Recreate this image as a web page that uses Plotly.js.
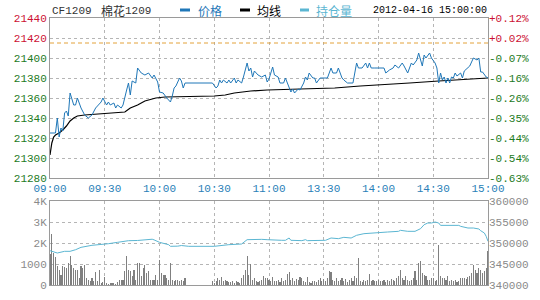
<!DOCTYPE html>
<html><head><meta charset="utf-8">
<script src="https://cdn.plot.ly/plotly-3.0.1.min.js"></script>
<style>html,body{margin:0;padding:0;background:#fff}#c{width:540px;height:300px}</style>
</head><body><div id="c"></div>
<script>
// ---- data ----
const prevSettle = 21415;
const timeTickVals = [0,30,60,90,120,150,180,210,240];
const timeTickText = ['09:00','09:30','10:00','10:30','11:00','13:30','14:00','14:30','15:00'];
const priceTickVals = [21280,21300,21320,21340,21360,21380,21400,21420,21440];
const pctTickText = ['-0.63%','-0.54%','-0.44%','-0.35%','-0.26%','-0.16%','-0.07%','+0.02%','+0.12%'];
const volTickVals = [0,1000,2000,3000,4000];
const volTickText = ['0','1000','2K','3K','4K'];
const oiTickVals = [340000,345000,350000,355000,360000];
const oiTickText = ['340000','345000','350000','355000','360000'];

const priceMin = [0,3,4,5,6,7,8,9,10,11,13,14,15,17,19,21,23,25,28,29,31,32,33,35,36,37,39,40,42,43,44,45,47,48,50,52,54,56,57,59,60,62,64,66,67,68,69,71,72,73,74,89,91,92,93,94,95,97,98,99,101,102,103,105,106,108,109,110,111,112,114,116,118,119,120,122,123,125,126,128,129,130,132,133,134,136,137,139,140,141,142,144,145,146,148,152,154,155,157,158,160,161,163,166,168,169,171,173,174,175,176,178,181,183,184,186,188,189,191,193,194,196,198,199,201,202,204,205,206,208,209,211,212,213,214,215,216,217,218,219,220,221,222,223,225,226,227,229,230,231,232,234,235,236,237,239,240];
const priceVal = [21325,21325,21340,21321,21330,21327,21345,21347,21342,21365,21353,21353,21360,21350,21343,21340,21343,21350,21356,21360,21353,21356,21353,21355,21350,21353,21350,21353,21368,21375,21363,21377,21375,21390,21385,21383,21385,21380,21383,21376,21366,21365,21360,21356,21362,21370,21372,21380,21377,21370,21375,21375,21370,21372,21378,21375,21378,21375,21378,21375,21380,21375,21378,21375,21381,21395,21387,21390,21381,21387,21383,21381,21383,21376,21379,21391,21383,21381,21375,21375,21380,21375,21366,21369,21365,21369,21368,21375,21381,21378,21385,21380,21380,21375,21380,21380,21390,21385,21385,21390,21380,21378,21375,21375,21395,21390,21390,21395,21390,21395,21390,21390,21390,21390,21385,21388,21390,21393,21390,21395,21392,21385,21395,21393,21398,21405,21392,21403,21400,21405,21400,21395,21390,21375,21385,21378,21381,21375,21380,21375,21381,21380,21385,21382,21385,21380,21387,21390,21392,21396,21400,21398,21400,21386,21386,21381,21380];

const avgMin = [0,1,2,3,5,7,9,11,13,15,19,27,37,41,44,48,52,58,63,90,96,101,110,119,137,156,170,181,197,213,225,240];
const avgVal = [21303,21315,21321,21323,21325,21328,21332,21337,21340,21342,21343,21344,21345,21346,21350,21353,21357,21360,21361,21362,21363,21365,21367,21368,21369,21370,21372,21373,21375,21377,21378,21380];

const oiMin = [0,4,8,11,14,17,23,28,32,37,43,48,54,56,57,60,65,66,70,72,76,90,98,105,108,112,116,119,123,127,129,131,132,138,140,141,151,154,158,161,165,168,172,178,185,191,192,196,200,203,205,207,209,211,213,214,218,224,225,229,232,235,236,238,239,240];
const oiVal = [348170,347620,348020,348020,348400,348970,349450,349600,349830,350160,350550,350600,350950,350900,350750,350160,349600,349210,349250,349400,349210,349210,349600,349760,350790,350870,350870,350790,350640,350640,350640,351190,350640,350560,350790,350560,350640,351190,351030,351350,351190,351830,352220,352460,352620,352780,353020,352780,352780,353400,354360,354760,354760,355000,354760,354200,354200,354200,353970,353570,353570,353330,352930,352380,351590,350400];

const volume = [
1500,2430,1520,1320,890,730,490,890,860,810,
1050,1360,970,810,730,730,330,890,810,970,
330,250,170,330,200,620,170,730,100,140,
360,100,60,100,80,100,50,140,250,250,
250,650,1360,730,650,410,730,250,1050,1050,
410,810,970,570,680,250,250,250,490,250,
1200,570,490,490,330,250,1050,250,170,250,
220,170,250,170,330,0,0,0,0,0,
0,0,0,0,0,0,0,0,0,170,
100,210,330,250,365,170,250,170,140,140,
170,100,170,140,100,330,490,730,1360,490,
1000,250,330,170,140,170,250,410,330,330,
250,170,365,210,170,250,140,330,170,250,
520,620,250,330,210,300,250,365,330,170,
140,365,140,100,170,210,140,250,330,170,
300,170,330,680,620,250,210,330,170,250,
330,170,300,140,250,330,210,410,330,1290,
170,140,250,170,250,520,170,250,170,210,
250,170,170,250,140,250,170,300,250,210,
330,410,730,330,250,410,250,170,250,330,
680,250,1050,1130,570,490,410,250,250,330,
330,170,250,1920,410,330,330,250,410,210,
250,170,250,140,170,330,330,330,300,365,
410,570,970,730,570,810,730,570,650,810,
1600];
const volMin = volume.map((_, i) => i);

// ---- styling ----
const MONO = '"Liberation Mono", "DejaVu Sans Mono", monospace';
const CJK = '"Noto Sans CJK SC", sans-serif';
const RED = '#cc1133', GREEN = '#1d7a1d', BLUE = '#1f77b8', LBLUE = '#5bb6d2', GRAY = '#8a8a8a';
const GRID = '#b5b5b5', BORDER = '#9a9a9a';

const priceTickText = priceTickVals.map(v =>
  `<span style="color:${v > prevSettle ? RED : GREEN}">${v}</span>`);
const pctColored = pctTickText.map((t, i) =>
  `<span style="color:${priceTickVals[i] > prevSettle ? RED : GREEN}">${t}</span>`);

const W = 540, H = 300, L = 50, R = 52, T = 18, B = 15;
const pw = W - L - R, ph = H - T - B;
const px = x => (x - L) / pw;
const py = y => (H - B - y) / ph;

const traces = [
  {type: 'bar', x: volMin, y: volume, xaxis: 'x2', yaxis: 'y2',
   marker: {color: '#808080', line: {width: 0}}, width: 0.62},
  {type: 'scatter', mode: 'lines', x: oiMin, y: oiVal, xaxis: 'x2', yaxis: 'y4',
   line: {color: LBLUE, width: 1}},
  {type: 'scatter', mode: 'lines', x: [0, 240], y: [prevSettle, prevSettle], xaxis: 'x', yaxis: 'y3',
   line: {color: '#e3a23a', width: 1, dash: '4px,3px'}},
  {type: 'scatter', mode: 'lines', x: avgMin, y: avgVal, xaxis: 'x', yaxis: 'y',
   line: {color: '#000', width: 1.2}},
  {type: 'scatter', mode: 'lines', x: priceMin, y: priceVal, xaxis: 'x', yaxis: 'y',
   line: {color: BLUE, width: 1}}
];

const axisBase = {showgrid: true, gridcolor: GRID, griddash: 'dot', gridwidth: 1,
  zeroline: false, showline: true, linecolor: BORDER, linewidth: 1, mirror: true,
  ticks: '', fixedrange: true};

const mainBot = py(178), lowTop = py(201);

const layout = {
  width: W, height: H, margin: {l: L, r: R, t: T, b: B},
  paper_bgcolor: '#fff', plot_bgcolor: '#fff', showlegend: false, hovermode: false,
  bargap: 0,
  xaxis: Object.assign({}, axisBase, {domain: [0, 1], anchor: 'y', range: [0, 240],
    tickmode: 'array', tickvals: timeTickVals, ticktext: timeTickText,
    tickfont: {family: MONO, size: 11, color: '#2a7fb8'}}),
  yaxis: Object.assign({}, axisBase, {domain: [mainBot, 1], anchor: 'x', range: [21280, 21440],
    tickmode: 'array', tickvals: priceTickVals, ticktext: priceTickText,
    tickfont: {family: MONO, size: 11}}),
  yaxis3: {overlaying: 'y', side: 'right', anchor: 'x', range: [21280, 21440],
    tickmode: 'array', tickvals: priceTickVals, ticktext: pctColored, showgrid: false,
    zeroline: false, showline: false, ticks: '', tickfont: {family: MONO, size: 11}, fixedrange: true},
  xaxis2: Object.assign({}, axisBase, {domain: [0, 1], anchor: 'y2', range: [0, 240],
    tickmode: 'array', tickvals: timeTickVals, showticklabels: false}),
  yaxis2: Object.assign({}, axisBase, {domain: [0, lowTop], anchor: 'x2', range: [0, 4000],
    tickmode: 'array', tickvals: volTickVals, ticktext: volTickText,
    tickfont: {family: MONO, size: 11, color: GRAY}}),
  yaxis4: {overlaying: 'y2', side: 'right', anchor: 'x2', range: [340000, 360000],
    tickmode: 'array', tickvals: oiTickVals, ticktext: oiTickText, showgrid: false,
    zeroline: false, showline: false, ticks: '', tickfont: {family: MONO, size: 11, color: GRAY}, fixedrange: true},
  shapes: [
    {type: 'rect', xref: 'paper', yref: 'paper', x0: px(180), x1: px(190), y0: py(11.5), y1: py(8.5), fillcolor: BLUE, line: {width: 0}},
    {type: 'rect', xref: 'paper', yref: 'paper', x0: px(240), x1: px(250), y0: py(11.5), y1: py(8.5), fillcolor: '#000', line: {width: 0}},
    {type: 'rect', xref: 'paper', yref: 'paper', x0: px(300), x1: px(309), y0: py(11.5), y1: py(8.5), fillcolor: LBLUE, line: {width: 0}}
  ],
  annotations: [
    {text: 'CF1209', x: px(50), y: py(11), xref: 'paper', yref: 'paper', xanchor: 'left', yanchor: 'middle', showarrow: false, font: {family: MONO, size: 11, color: '#333'}},
    {text: '棉花', x: px(99), y: py(11), xref: 'paper', yref: 'paper', xanchor: 'left', yanchor: 'middle', showarrow: false, font: {family: CJK, size: 12, color: '#333'}},
    {text: '1209', x: px(123), y: py(11), xref: 'paper', yref: 'paper', xanchor: 'left', yanchor: 'middle', showarrow: false, font: {family: MONO, size: 11, color: '#333'}},
    {text: '价格', x: px(196), y: py(11), xref: 'paper', yref: 'paper', xanchor: 'left', yanchor: 'middle', showarrow: false, font: {family: CJK, size: 12, color: BLUE}},
    {text: '均线', x: px(255), y: py(11), xref: 'paper', yref: 'paper', xanchor: 'left', yanchor: 'middle', showarrow: false, font: {family: CJK, size: 12, color: '#000'}},
    {text: '持仓量', x: px(314), y: py(11), xref: 'paper', yref: 'paper', xanchor: 'left', yanchor: 'middle', showarrow: false, font: {family: CJK, size: 12, color: LBLUE}},
    {text: '2012-04-16 15:00:00', x: px(371), y: py(11), xref: 'paper', yref: 'paper', xanchor: 'left', yanchor: 'middle', showarrow: false, font: {family: MONO, size: 10, color: '#000'}}
  ]
};

Plotly.newPlot('c', traces, layout, {staticPlot: true, displayModeBar: false});
</script></body></html>
